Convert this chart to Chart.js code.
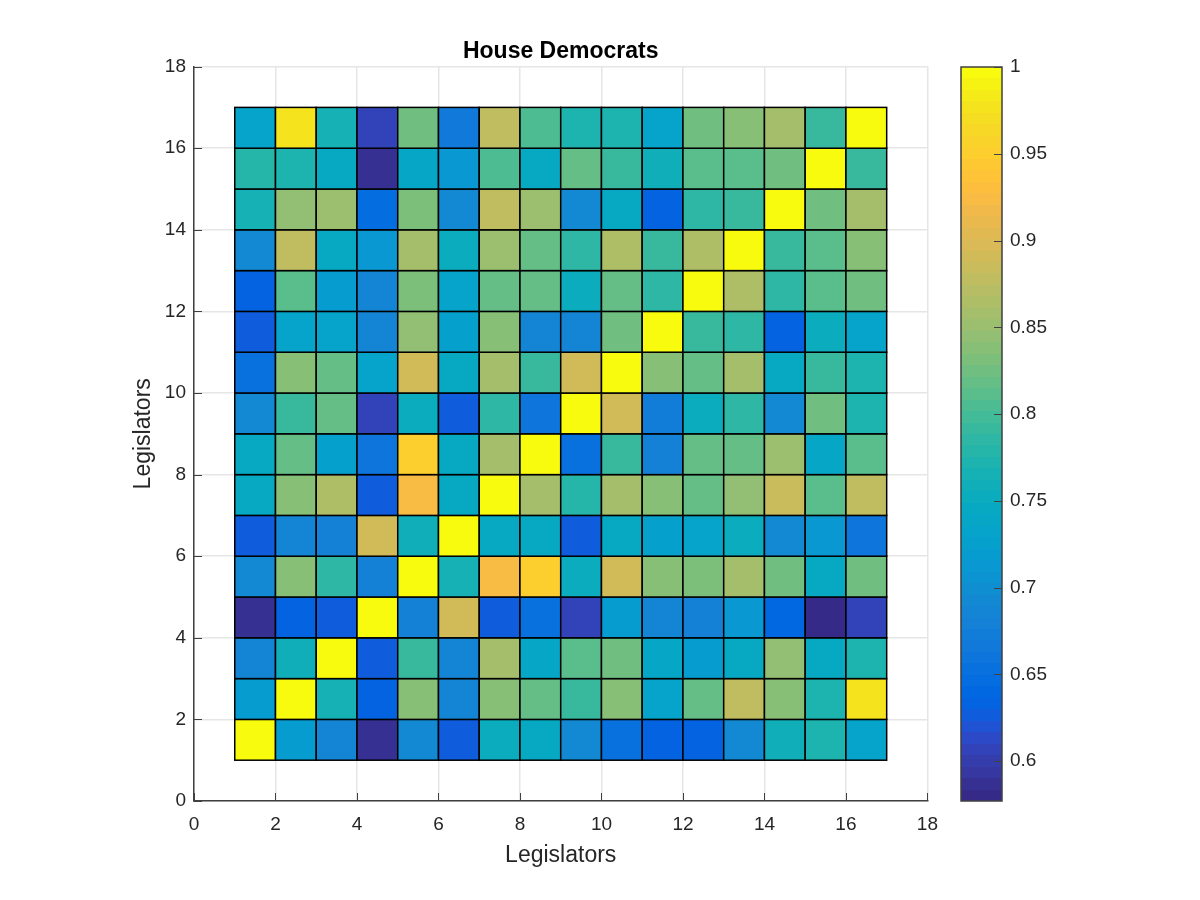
<!DOCTYPE html>
<html lang="en">

<head>
  <meta charset="utf-8">
  <title>House Democrats</title>
  <script src="https://cdn.jsdelivr.net/npm/chart.js@4"></script>
  <style>
    html, body { margin: 0; padding: 0; background: #fff; }
    #wrap { position: relative; width: 1200px; height: 900px; overflow: hidden; }
    canvas { position: absolute; top: 0; }
    #heat { left: 0; }
    #bar { left: 950px; }
  </style>
</head>

<body>
  <div id="wrap">
    <canvas id="heat" width="950" height="900"></canvas>
    <canvas id="bar" width="250" height="900"></canvas>
  </div>

  <script>
    const chartTitle = 'House Democrats';
    const xAxisTitle = 'Legislators';
    const yAxisTitle = 'Legislators';
    const axisTicks = [0, 2, 4, 6, 8, 10, 12, 14, 16, 18];
    const colorTicks = [0.6, 0.65, 0.7, 0.75, 0.8, 0.85, 0.9, 0.95, 1];
    const colorMin = 0.577;
    const colorMax = 1;

    // values by row, y = 1 at the bottom up to y = 16 at the top
    const row1 = [1, 0.72, 0.685, 0.585, 0.695, 0.628, 0.75, 0.745, 0.695, 0.655, 0.635, 0.63, 0.69, 0.76, 0.77, 0.735];
    const row2 = [0.72, 1, 0.765, 0.635, 0.84, 0.685, 0.835, 0.815, 0.795, 0.84, 0.735, 0.815, 0.875, 0.835, 0.77, 0.98];
    const row3 = [0.685, 0.76, 1, 0.625, 0.79, 0.685, 0.86, 0.74, 0.81, 0.825, 0.74, 0.72, 0.745, 0.845, 0.745, 0.77];
    const row4 = [0.585, 0.635, 0.625, 1, 0.68, 0.89, 0.625, 0.655, 0.61, 0.72, 0.685, 0.68, 0.71, 0.64, 0.58, 0.605];
    const row5 = [0.695, 0.84, 0.785, 0.68, 1, 0.765, 0.925, 0.95, 0.75, 0.89, 0.84, 0.83, 0.855, 0.825, 0.745, 0.825];
    const row6 = [0.628, 0.685, 0.68, 0.89, 0.76, 1, 0.745, 0.745, 0.628, 0.745, 0.725, 0.735, 0.755, 0.69, 0.71, 0.66];
    const row7 = [0.745, 0.835, 0.865, 0.625, 0.925, 0.745, 1, 0.86, 0.78, 0.855, 0.84, 0.815, 0.845, 0.885, 0.81, 0.875];
    const row8 = [0.745, 0.815, 0.725, 0.66, 0.95, 0.745, 0.86, 1, 0.655, 0.79, 0.68, 0.82, 0.82, 0.85, 0.74, 0.81];
    const row9 = [0.695, 0.795, 0.815, 0.61, 0.75, 0.628, 0.785, 0.66, 1, 0.89, 0.675, 0.75, 0.785, 0.69, 0.825, 0.77];
    const row10 = [0.65, 0.84, 0.82, 0.73, 0.89, 0.745, 0.86, 0.795, 0.89, 1, 0.835, 0.82, 0.86, 0.745, 0.795, 0.775];
    const row11 = [0.628, 0.73, 0.735, 0.685, 0.845, 0.725, 0.84, 0.685, 0.685, 0.825, 1, 0.795, 0.785, 0.635, 0.75, 0.735];
    const row12 = [0.63, 0.81, 0.72, 0.685, 0.83, 0.73, 0.815, 0.815, 0.755, 0.815, 0.785, 1, 0.865, 0.785, 0.81, 0.825];
    const row13 = [0.69, 0.875, 0.745, 0.715, 0.86, 0.755, 0.85, 0.815, 0.785, 0.865, 0.795, 0.865, 1, 0.795, 0.81, 0.84];
    const row14 = [0.765, 0.845, 0.85, 0.645, 0.83, 0.69, 0.88, 0.85, 0.69, 0.745, 0.635, 0.785, 0.795, 1, 0.825, 0.86];
    const row15 = [0.78, 0.77, 0.745, 0.59, 0.74, 0.71, 0.805, 0.745, 0.82, 0.795, 0.76, 0.81, 0.81, 0.825, 1, 0.795];
    const row16 = [0.735, 0.98, 0.765, 0.605, 0.825, 0.665, 0.875, 0.805, 0.775, 0.775, 0.735, 0.825, 0.84, 0.86, 0.795, 1];
    const rows = [row1, row2, row3, row4, row5, row6, row7, row8, row9, row10, row11, row12, row13, row14, row15, row16];

    // parula, 64 levels
    const parula = [
      [53, 42, 135], [54, 48, 147], [54, 55, 160], [53, 61, 173], [50, 67, 186], [44, 74, 199], [32, 83, 212], [15, 92, 221],
      [3, 99, 225], [2, 104, 225], [4, 109, 224], [8, 113, 222], [13, 117, 220], [16, 121, 218], [18, 125, 216], [20, 129, 214],
      [20, 133, 212], [19, 137, 211], [16, 142, 210], [12, 147, 210], [9, 152, 209], [7, 156, 207], [6, 160, 205], [6, 164, 202],
      [6, 167, 198], [7, 169, 194], [10, 172, 190], [15, 174, 185], [21, 177, 180], [29, 179, 175], [37, 181, 169], [46, 183, 164],
      [56, 185, 158], [66, 187, 152], [77, 188, 146], [89, 189, 140], [101, 190, 134], [113, 191, 128], [124, 191, 123], [135, 191, 119],
      [146, 191, 115], [156, 191, 111], [165, 190, 107], [174, 190, 103], [183, 189, 100], [192, 188, 96], [200, 188, 93], [209, 187, 89],
      [217, 186, 86], [225, 185, 82], [233, 185, 78], [241, 185, 74], [248, 187, 68], [253, 190, 61], [255, 195, 55], [254, 200, 50],
      [252, 206, 46], [250, 211, 42], [247, 216, 38], [245, 222, 33], [245, 228, 29], [245, 235, 24], [246, 243, 19], [249, 251, 14]
    ];

    const tickColor = '#262626';
    const tickFont = { family: 'Liberation Sans', size: 19 };
    const labelFont = { family: 'Liberation Sans', size: 23 };

    function colorFor(v) {
      let i = Math.floor((v - colorMin) / (colorMax - colorMin) * parula.length);
      i = Math.max(0, Math.min(parula.length - 1, i));
      return 'rgb(' + parula[i].join(',') + ')';
    }

    // pcolor cells, placed with the chart's scales
    const cellsPlugin = {
      id: 'cells',
      beforeDatasetsDraw(chart) {
        const c = chart.ctx, x = chart.scales.x, y = chart.scales.y;
        c.save();
        c.lineWidth = 1.5;
        c.strokeStyle = '#000';
        rows.forEach((row, r) => {
          row.forEach((v, col) => {
            const x0 = x.getPixelForValue(col + 1), x1 = x.getPixelForValue(col + 2);
            const y0 = y.getPixelForValue(r + 2), y1 = y.getPixelForValue(r + 1);
            c.fillStyle = colorFor(v);
            c.fillRect(x0, y0, x1 - x0, y1 - y0);
            c.strokeRect(x0, y0, x1 - x0, y1 - y0);
          });
        });
        c.restore();
      }
    };

    // ticks point inward, only on the left and bottom axes
    const innerTicksPlugin = {
      id: 'innerTicks',
      afterDraw(chart) {
        const c = chart.ctx, x = chart.scales.x, y = chart.scales.y, a = chart.chartArea;
        c.save();
        c.strokeStyle = '#404040';
        c.lineWidth = 1;
        axisTicks.forEach(t => {
          const px = Math.round(x.getPixelForValue(t)) + 0.5, py = Math.round(y.getPixelForValue(t)) + 0.5;
          c.beginPath();
          c.moveTo(px, a.bottom);
          c.lineTo(px, a.bottom - 8);
          c.moveTo(a.left, py);
          c.lineTo(a.left + 8, py);
          c.stroke();
        });
        c.restore();
      }
    };

    new Chart(document.getElementById('heat'), {
      type: 'scatter',
      data: {
        datasets: [{
          label: chartTitle,
          data: rows.flatMap((row, r) => row.map((v, col) => ({ x: col + 1.5, y: r + 1.5, v: v }))),
          pointRadius: 0
        }]
      },
      options: {
        responsive: false,
        animation: false,
        events: [],
        layout: { padding: { left: 90, right: 22, top: 38, bottom: 0 } },
        plugins: {
          legend: { display: false },
          tooltip: { enabled: false },
          title: {
            display: true,
            fullSize: false,
            text: chartTitle,
            color: '#000',
            font: { family: 'Liberation Sans', size: 23, weight: 'bold' },
            padding: { top: 0, bottom: 1 }
          }
        },
        scales: {
          x: {
            type: 'linear', min: 0, max: 18,
            afterBuildTicks: s => { s.ticks = axisTicks.map(v => ({ value: v })); },
            afterFit: s => { s.height = 99; },
            grid: { color: '#e6e6e6', lineWidth: 1.5, drawTicks: false },
            border: { color: '#404040', width: 1.5 },
            ticks: { color: tickColor, font: tickFont, padding: 12, maxRotation: 0 },
            title: { display: true, text: xAxisTitle, color: tickColor, font: labelFont, padding: { bottom: 31 } }
          },
          y: {
            type: 'linear', min: 0, max: 18,
            afterBuildTicks: s => { s.ticks = axisTicks.map(v => ({ value: v })); },
            afterFit: s => { s.width = 104; },
            grid: { color: '#e6e6e6', lineWidth: 1.5, drawTicks: false },
            border: { color: '#404040', width: 1.5 },
            ticks: { color: tickColor, font: tickFont, padding: 8 },
            title: { display: true, text: yAxisTitle, color: tickColor, font: labelFont, padding: { top: 40 } }
          }
        }
      },
      plugins: [cellsPlugin, innerTicksPlugin]
    });

    // colorbar bands and its inward ticks
    const bandsPlugin = {
      id: 'bands',
      beforeDatasetsDraw(chart) {
        const c = chart.ctx, y = chart.scales.y, a = chart.chartArea;
        const step = (colorMax - colorMin) / parula.length;
        c.save();
        parula.forEach((rgb, i) => {
          const y0 = Math.round(y.getPixelForValue(colorMin + (i + 1) * step));
          const y1 = Math.round(y.getPixelForValue(colorMin + i * step));
          c.fillStyle = 'rgb(' + rgb.join(',') + ')';
          c.fillRect(a.left, y0, a.right - a.left, y1 - y0);
        });
        c.restore();
      },
      afterDraw(chart) {
        const c = chart.ctx, y = chart.scales.y, a = chart.chartArea;
        c.save();
        c.strokeStyle = '#404040';
        c.lineWidth = 1.5;
        c.strokeRect(a.left, a.top, a.right - a.left, a.bottom - a.top);
        c.lineWidth = 1;
        colorTicks.forEach(t => {
          const py = Math.round(y.getPixelForValue(t)) + 0.5;
          c.beginPath();
          c.moveTo(a.right - 8, py);
          c.lineTo(a.right, py);
          c.stroke();
        });
        c.restore();
      }
    };

    new Chart(document.getElementById('bar'), {
      type: 'scatter',
      data: { datasets: [{ data: [], pointRadius: 0 }] },
      options: {
        responsive: false,
        animation: false,
        events: [],
        layout: { padding: { left: 11, right: 148, top: 67, bottom: 99 } },
        plugins: { legend: { display: false }, tooltip: { enabled: false } },
        scales: {
          x: { type: 'linear', min: 0, max: 1, display: false },
          y: {
            type: 'linear', position: 'right', min: colorMin, max: colorMax,
            afterBuildTicks: s => { s.ticks = colorTicks.map(v => ({ value: v })); },
            afterFit: s => { s.width = 50; },
            grid: { display: false, drawTicks: false },
            border: { display: false },
            ticks: { color: tickColor, font: tickFont, padding: 8, callback: v => String(v) }
          }
        }
      },
      plugins: [bandsPlugin]
    });
  </script>
</body>

</html>
